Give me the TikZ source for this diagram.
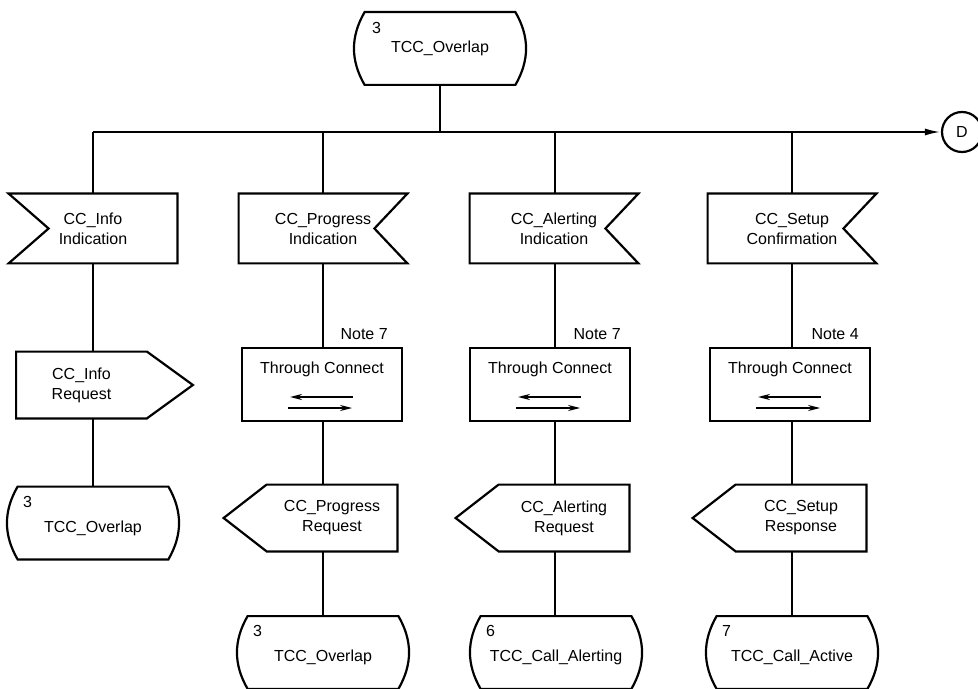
\documentclass[tikz,border=0pt]{standalone}
\usepackage{fontspec}
\setmainfont{Liberation Sans}
\usetikzlibrary{arrows.meta,positioning}

% outlines of the SDL symbols, drawn round named nodes
\newcommand{\sigInL}[1]{\draw[line] (#1.north west) -- (#1.north east) -- (#1.south east) -- (#1.south west) -- ([xshift=20pt]#1.west) -- cycle;}
\newcommand{\sigInR}[1]{\draw[line] (#1.north east) -- (#1.north west) -- (#1.south west) -- (#1.south east) -- ([xshift=-16.5pt]#1.east) -- cycle;}
\newcommand{\sigOutR}[1]{\draw[line] (#1.north west) -- (#1.north east) -- ([xshift=23pt]#1.east) -- (#1.south east) -- (#1.south west) -- cycle;}
\newcommand{\sigOutL}[1]{\draw[line] (#1.north east) -- (#1.north west) -- ([xshift=-21.5pt]#1.west) -- (#1.south west) -- (#1.south east) -- cycle;}
\newcommand{\stateframe}[1]{\draw[line] (#1.south west) to[bend left=30] (#1.north west) -- (#1.north east) to[bend left=30] (#1.south east) -- cycle;}

\begin{document}
\begin{tikzpicture}[
  x=0.5pt,y=0.5pt,
  font=\fontsize{8}{10}\selectfont,
  line/.style={line width=1.1pt},
  arr/.style={line,-{Latex[length=8pt,width=3.5pt]}},
  insig/.style={align=center,inner sep=0pt,minimum width=84pt,minimum height=34.5pt},
  outsig/.style={align=center,inner sep=0pt,minimum width=65pt,minimum height=33pt},
  sdlstate/.style={inner sep=0pt,minimum width=75pt,minimum height=36pt},
  num/.style={inner sep=0pt,anchor=north west},
  note/.style={inner sep=0pt},
  conn/.style={circle,draw,line width=1.1pt,minimum size=20pt,inner sep=0pt},
  thru/.style={draw,line width=1.1pt,inner sep=0pt,minimum width=80pt,minimum height=36.5pt,text depth=17pt,
    path picture={
      \draw[line width=1.1pt,{Stealth[length=6pt,width=3pt]}-]
        ([xshift=-16pt,yshift=-6.25pt]path picture bounding box.center) -- ([xshift=15.5pt,yshift=-6.25pt]path picture bounding box.center);
      \draw[line width=0.6pt,-{Stealth[length=6pt,width=3pt]}]
        ([xshift=-17pt,yshift=-11.75pt]path picture bounding box.center) -- ([xshift=15pt,yshift=-11.75pt]path picture bounding box.center);
    }}
]
\clip (0,0) rectangle (978,-689);

% ---- start state and bus ----
\node[sdlstate] (st0) at (440,-48.5) {TCC\_Overlap};
\stateframe{st0}
\node[num] (n0) at ([xshift=3.5pt,yshift=-5pt]st0.north west) {3};
\coordinate (b0) at (440,-132);
\coordinate (b1) at (93,-132);
\coordinate (b2) at (323,-132);
\coordinate (b3) at (555,-132);
\coordinate (b4) at (792,-132);
\node[conn] (D) at (962,-132) {D};
\draw[line] (st0) -- (b0);
\draw[arr] (b1) -- (D);

% ---- column 1 ----
\node[insig] (i1) at (93,-228.5) {CC\_Info\\Indication};
\sigInL{i1}
\node[outsig] (o1) at (81.5,-385) {CC\_Info\\Request};
\sigOutR{o1}
\node[sdlstate,text height=11pt] (s1) at (93,-523) {TCC\_Overlap};
\stateframe{s1}
\node[num] (n1) at ([xshift=2.5pt,yshift=-4.5pt]s1.north west) {3};
\draw[line] (b1) -- (i1);
\draw[line] (i1) -- (b1 |- o1.north);
\draw[line] (b1 |- o1.south) -- (s1);

% ---- column 2 ----
\node[insig] (i2) at (323,-228.5) {CC\_Progress\\Indication};
\sigInR{i2}
\node[thru] (t2) at (322,-384.5) {Through Connect};
\node[note,above left=3.5pt and 7.5pt of t2.north east] (nt2) {Note 7};
\node[outsig] (o2) at (332,-518) {CC\_Progress\\Request};
\sigOutL{o2}
\node[sdlstate,text height=11pt] (s2) at (323,-652.5) {TCC\_Overlap};
\stateframe{s2}
\node[num] (n2) at ([xshift=2.5pt,yshift=-4.5pt]s2.north west) {3};
\draw[line] (b2) -- (i2);
\draw[line] (i2) -- (b2 |- t2.north);
\draw[line] (b2 |- t2.south) -- (b2 |- o2.north);
\draw[line] (b2 |- o2.south) -- (s2);

% ---- column 3 ----
\node[insig] (i3) at (554,-228.5) {CC\_Alerting\\Indication};
\sigInR{i3}
\node[thru] (t3) at (550,-384.5) {Through Connect};
\node[note,above left=3.5pt and 5pt of t3.north east] (nt3) {Note 7};
\node[outsig] (o3) at (564,-518) {CC\_Alerting\\Request};
\sigOutL{o3}
\node[sdlstate,text height=11pt] (s3) at (556,-652.5) {TCC\_Call\_Alerting};
\stateframe{s3}
\node[num] (n3) at ([xshift=2.5pt,yshift=-4.5pt]s3.north west) {6};
\draw[line] (b3) -- (b3 |- i3.north);
\draw[line] (b3 |- i3.south) -- (b3 |- t3.north);
\draw[line] (b3 |- t3.south) -- (b3 |- o3.north);
\draw[line] (b3 |- o3.south) -- (b3 |- s3.north);

% ---- column 4 ----
\node[insig] (i4) at (792,-228.5) {CC\_Setup\\Confirmation};
\sigInR{i4}
\node[thru] (t4) at (790,-384.5) {Through Connect};
\node[note,above left=3.5pt and 6pt of t4.north east] (nt4) {Note 4};
\node[outsig] (o4) at (801,-518) {CC\_Setup\\Response};
\sigOutL{o4}
\node[sdlstate,text height=11pt] (s4) at (792,-652.5) {TCC\_Call\_Active};
\stateframe{s4}
\node[num] (n4) at ([xshift=2.5pt,yshift=-4.5pt]s4.north west) {7};
\draw[line] (b4) -- (i4);
\draw[line] (i4) -- (b4 |- t4.north);
\draw[line] (b4 |- t4.south) -- (b4 |- o4.north);
\draw[line] (b4 |- o4.south) -- (s4);
\end{tikzpicture}
\end{document}
